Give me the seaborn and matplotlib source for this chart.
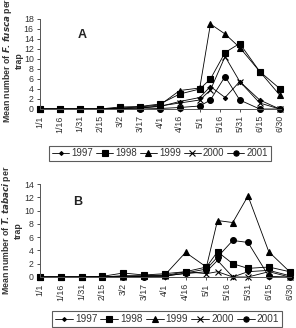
import numpy as np
import pandas as pd
import seaborn as sns
import matplotlib.pyplot as plt
from matplotlib.lines import Line2D

# sampling dates (days since 1/1) and tick labels
days = [0, 15, 30, 45, 60, 75, 90, 105, 120, 128, 139, 150, 165, 180]
tick_days = [0, 15, 30, 45, 60, 75, 90, 105, 120, 135, 150, 165, 180]
tick_labels = ["1/1", "1/16", "1/31", "2/15", "3/2", "3/17", "4/1", "4/16",
               "5/1", "5/16", "5/31", "6/15", "6/30"]
years = ["1997", "1998", "1999", "2000", "2001"]

# panel A: F. fusca
fusca_1997 = [0, 0, 0, 0, 0.1, 0.2, 0.5, 1.5, 2.3, 4.5, 2.3, 5.5, 1.8, 0]
fusca_1998 = [0, 0, 0, 0, 0.4, 0.5, 1.0, 3.0, 4.0, 6.0, 11.3, 13.1, 7.5, 4.1]
fusca_1999 = [0, 0, 0, 0, 0.2, 0.4, 0.8, 3.7, 4.2, 17.0, 15.0, 12.3, 7.5, 2.8]
fusca_2000 = [0, 0, 0, 0, 0.1, 0.2, 0.6, 1.2, 1.8, 3.8, 10.5, 5.5, 1.2, 0]
fusca_2001 = [0, 0, 0, 0, 0, 0, 0.1, 0.3, 0.6, 1.8, 6.5, 1.8, 0, 0]

# panel B: T. tabaci
tabaci_1997 = [0, 0, 0, 0, 0.1, 0.1, 0.2, 0.5, 0.8, 2.5, 0, 0.8, 1.0, 0.2]
tabaci_1998 = [0, 0, 0, 0.1, 0.6, 0.3, 0.5, 0.8, 1.5, 3.8, 2.0, 1.3, 1.5, 0.8]
tabaci_1999 = [0, 0, 0, 0, 0.2, 0.2, 0.3, 3.7, 1.5, 8.5, 8.2, 12.2, 3.8, 0.8]
tabaci_2000 = [0, 0, 0, 0, 0, 0.1, 0.2, 0.8, 0.5, 0.8, 0, 0, 0.8, 0]
tabaci_2001 = [0, 0, 0, 0, 0, 0, 0.1, 0.6, 1.2, 3.0, 5.5, 5.2, 0.1, 0]

markers = {"1997": ("D", 2.2), "1998": ("s", 4.8), "1999": ("^", 5.0),
           "2000": ("x", 4.5), "2001": ("o", 4.2)}

sns.set_style("ticks")
plt.rcParams["font.family"] = ["Liberation Sans", "DejaVu Sans"]
txt = "#333333"


def long_df(series):
    rows = []
    for yr, vals in zip(years, series):
        for d, v in zip(days, vals):
            rows.append({"day": d, "count": v, "year": yr})
    return pd.DataFrame(rows)


def draw_panel(ax, df, ymax, ylabel, label_y, letter, letter_xy):
    for yr in years:
        m, ms = markers[yr]
        sns.lineplot(data=df[df["year"] == yr], x="day", y="count", ax=ax,
                     color="black", lw=0.6, marker=m, markersize=ms,
                     markeredgecolor="black", markeredgewidth=0.8,
                     clip_on=False, legend=False)
    ax.set_xlim(0, 181)
    ax.set_ylim(0, ymax)
    ax.set_yticks(np.arange(0, ymax + 1, 2))
    ax.set_xticks(tick_days)
    ax.set_xticklabels(tick_labels, rotation=90)
    ax.tick_params(labelsize=6.3, colors=txt, length=2.5, width=0.6, pad=2)
    for s in ["top", "right"]:
        ax.spines[s].set_visible(False)
    for s in ["left", "bottom"]:
        ax.spines[s].set_color("#555555")
        ax.spines[s].set_linewidth(0.7)
    ax.set_xlabel("")
    ax.set_ylabel(ylabel, fontsize=6.3, fontweight="bold", color=txt,
                  linespacing=1.1, ha="center", va="center")
    ax.yaxis.set_label_coords(-0.113, label_y)
    ax.text(letter_xy[0], letter_xy[1], letter, transform=ax.transAxes,
            fontsize=9, fontweight="bold", color="#222222",
            ha="center", va="center")


def draw_legend(fig, center, fs):
    handles = [Line2D([], [], color="black", lw=0.6, marker=markers[y][0],
                      markersize=markers[y][1] * 0.9, markeredgewidth=0.8)
               for y in years]
    leg = fig.legend(handles, years, loc="center", bbox_to_anchor=center,
                     ncol=5, fontsize=fs, frameon=True, fancybox=False,
                     handlelength=1.8, handletextpad=0.2, columnspacing=0.3,
                     borderpad=0.3, borderaxespad=0)
    leg.get_frame().set_edgecolor("#333333")
    leg.get_frame().set_linewidth(0.8)
    for t in leg.get_texts():
        t.set_color(txt)


W, H = 296, 328
fig = plt.figure(figsize=(W / 100, H / 100), dpi=100)

axA = fig.add_axes([40 / W, 1 - 109 / H, 241 / W, 90 / H])
draw_panel(axA, long_df([fusca_1997, fusca_1998, fusca_1999, fusca_2000, fusca_2001]),
           18, "Mean number of $\\mathbfit{F. fusca}$ per\ntrap", 0.54,
           "A", (0.176, 0.82))

axB = fig.add_axes([40 / W, 1 - 277 / H, 251 / W, 93 / H])
draw_panel(axB, long_df([tabaci_1997, tabaci_1998, tabaci_1999, tabaci_2000, tabaci_2001]),
           14, "Mean number of $\\mathbfit{T. tabaci}$ per\ntrap", 0.5,
           "B", (0.15, 0.81))

draw_legend(fig, (160 / W, 1 - 153.5 / H), 6.9)
draw_legend(fig, (167 / W, 1 - 319 / H), 7.2)

fig.savefig("out.png", dpi=100)
